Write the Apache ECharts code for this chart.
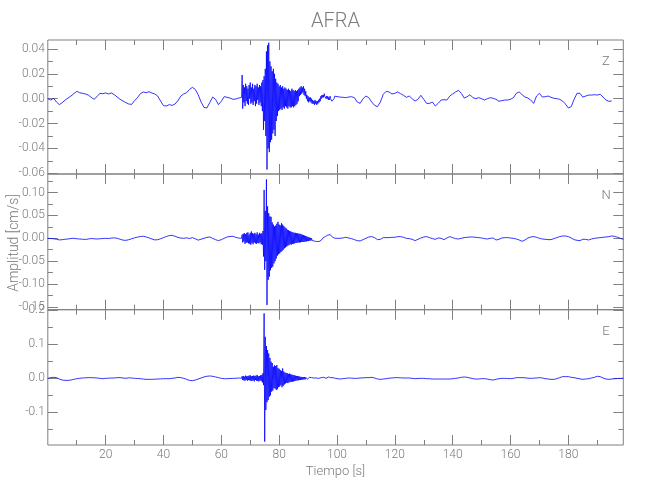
<!DOCTYPE html>
<html><head><meta charset="utf-8">
<script src="https://cdn.jsdelivr.net/npm/echarts@6/dist/echarts.min.js"></script>
<style>html,body{margin:0;padding:0;background:#fff}#c{width:650px;height:500px}</style>
</head><body><div id="c"></div>
<script>
// Amplitudes in units of 1e-3 cm/s.
// Quiet parts sampled every 1 s, the burst (67 s - 99.8 s) every 0.2 s.
const T_PRE = 0, T_BURST = 67, T_POST = 100;
const STEP_QUIET = 1, STEP_BURST = 0.2;

const zPre = [
 0,-1.1,0.3,-2.7,-4.8,-3.2,-1.1,0.5,2.1,4,
 5.9,4.8,4.3,3.8,2.9,1.1,-0.5,1.6,4.3,4,
 4.6,3.8,4.6,3.2,1.3,-0.5,-1.9,-3.2,-4.3,-4.6,
 -1.6,0.8,4,5.4,4.8,5.6,4.6,3.8,2.1,-1.9,
 -5.6,-5.9,-4.8,-5.4,-4.3,-1.6,2.1,3.8,4.8,7.5,
 9.1,7.5,3.2,-2.7,-7,-7.5,-3.2,1.3,-0.5,-4.8,
 -2.1,1.6,1.1,0.5,-0.5,-0.3,0.5];
const zBurst = [
 1,19,-8,11,-3,  9,-6,12,-2,10,  -4,8,-5,11,0,  13,-4,9,-3,12,
 -5,8,-2,11,-6,  10,-4,12,-1,9,  -5,11,-3,10,-6,  13,-10,15,-25,18,
 -18,24,-30,38,-57,  43,-40,45,-43,30,  -35,26,-33,22,-28,  24,-25,20,-30,16,
 -18,13,-14,12,-10,  10,-9,11,-8,9,  -9,10,-7,8,-8,  9,-6,8,-7,7,
 -8,8,-6,7,-7,  6,-7,8,-6,7,  -7,6,-6,7,-5,  6,-4,7,-2,8,
 2,9,3,10,4,  9,5,10,3,8,  2,6,0,3,-2,  2,-3,1,-2,1,
 -3,0,-4,-1,-4,  -2,-5,-1,-4,-2,  -5,-2,-4,-1,-3,  0,-2,2,0,3,
 1,3,1,4,2,  3,0,2,0,2,  -1,1,-1,2,0,  1,-2,-3,-1,-3,
 0,2,1,2,1];
const zPost = [
 0.8,1.3,1.1,0.8,1.3,1.6,0.8,-2.7,-3.8,0,
 2.1,0.8,-2.7,-5.4,-6.4,-2.7,3.5,5.9,5.4,3.8,
 4.3,5.4,4,2.7,1.1,2.1,0,-1.9,-0.5,2.7,
 -0.5,-3.8,-3.8,-2.7,-5.9,-3.8,-1.1,-0.8,-1.1,2.1,
 3.8,5.4,6.7,4.3,0.5,1.6,3.2,0.8,0,0.8,
 0,-1.1,0,0.8,0.3,-0.5,-2.1,-1.6,-1.1,-1.1,
 -0.5,0.8,4.3,5.4,3.2,1.3,0.5,-1.1,-3.8,2.1,
 4.3,1.3,1.6,2.1,1.1,0.3,0,-0.5,-1.9,-4.3,
 -7.5,-6.4,-0.5,4.3,4.3,1.3,2.1,2.9,2.9,3.2,
 2.9,3.5,1.3,-1.1,-2.1,-1.9];

const nPre = [
 0,-0.5,-1,-2,-3.5,-3,-2,-1.5,-0.5,0,
 -1,-1.5,-2,-2.5,-1.5,-0.5,-1,-1.5,-1,-0.5,
 0,-0.5,0.5,1,0,-2,-4,-4.5,-3,-1,
 1,2.5,4,4.5,3,1,-1.5,-3.5,-3,-1,
 1.5,4,6,6.5,4.5,2,0.5,0,1,-0.5,
 1.5,-1,-4,-2,0,2,3,0,-3,-5,
 -3,0,3,4,4.5,2,0.5];
const nBurst = [
 0,8,-9,10,-7,  11,-12,9,-10,12,  -9,13,-11,8,-12,  12,-14,15,-10,11,
 -13,10,-9,12,-11,  9,-12,13,-10,8,  -11,12,-9,10,-13,  11,-14,16,-40,106,
 -69,60,-50,129,-146,  70,-91,55,-84,48,  -70,47,-65,35,-62,  30,-55,26,-50,28,
 -44,32,-38,36,-35,  30,-33,28,-30,33,  -28,30,-25,27,-22,  24,-20,22,-18,19,
 -16,18,-15,16,-13,  15,-14,14,-12,13,  -12,12,-11,12,-10,  11,-10,11,-9,10,
 -9,10,-9,9,-8,  8,-8,7,-8,6,  -7,5,-7,4,-6,  3,-6,2,-5,1,
 -5,0,-5,-1,-6,  -2,-6,-3,-7,-4,  -7,-5,-8,-5,-7,  -4,-6,-3,-4,-1,
 -2,1,0,2,2,  4,3,5,4,7,  6,8,6,8,5,  6,4,4,2,3,
 1,2,0,1,0];
const nPost = [
 1.5,0,0.7,2.2,0.7,-0.7,-2.9,-5.1,-5.8,-2.9,
 0,2.9,3.7,1.5,-2.9,-2.2,1.5,1.5,1.5,2.2,
 2.2,3.7,3.7,2.2,0,-0.7,-2.2,-5.1,-2.2,0.7,
 2.9,3.7,1.5,-0.7,-2.2,0.7,0,-2.9,0.7,3.7,
 1.5,-0.7,-1.5,0,1.5,2.2,2.9,2.9,2.2,1.5,
 0.7,-0.7,-1.5,0,0.7,-3.7,-2.2,0.7,1.5,1.5,
 0.7,0,-1.5,-3.7,-6.6,-3.7,0.7,2.9,3.7,2.2,
 0,-1.5,-2.2,-2.9,-2.9,-0.7,1.5,3.7,5.1,5.1,
 3.7,0.7,-2.9,-4.4,-5.1,-2.2,-2.2,-3.7,-1.5,0,
 0.7,1.5,2.2,2.9,3.7,5.1,4.4,2.2,0,-2.2];

const ePre = [
 0,2,3,2,-2,-5,-6,-6,-5,-3,
 -1,0,1,1.5,2,2,1.5,1,0,-1,
 0,0.5,1,1,2,2,1,0,1.5,1,
 0,-0.5,-1,-2,-3,-3,-3,-2.5,-2,-1.5,
 -1,-1,-1,0,1,3,2,0,-3,-6,
 -7,-5,-2,1,4,6,7,6,4,2,
 0,-1,-1,-0.5,0,0,1];
const eBurst = [
 0,6,-5,7,-6,  5,-7,8,-4,6,  -7,7,-5,8,-6,  9,-7,6,-8,7,
 -6,8,-9,7,-5,  8,-7,10,-8,6,  -9,7,-6,9,-8,  10,-12,15,-20,191,
 -186,122,-93,95,-70,  83,-64,73,-54,60,  -50,49,-39,45,-36,  34,-29,38,-30,36,
 -34,39,-32,30,-26,  28,-24,24,-20,22,  -26,29,-22,20,-18,  17,-15,16,-13,15,
 -14,13,-12,14,-11,  12,-10,11,-10,10,  -9,9,-8,8,-7,  7,-6,7,-6,6,
 -5,5,-5,4,-4,  4,-4,3,-3,4,  -3,3,-2,3,-3,  2,-2,3,-2,2,
 -2,2,-1,2,-2,  1,-2,2,-1,1,  -1,1,-2,0,1,  -1,1,0,2,1,
 2,1,3,2,1,  2,0,1,2,3,  4,5,4,3,2,  1,0,1,2,1,
 0,-1,0,1,0];
const ePost = [
 -3,-2,-1,0,1,0.5,0,0,1,1.5,
 2,2,3,1,-2,-3,-2,-1,0.5,1,
 2,2,1.5,1,1,1,0,-1,-0.5,0,
 0,-1,-1,-2,-2,-2,-2,-2,-2,-2,
 -1,0,1,3,4,3,1,-1,-2,-2,
 -1,-1,-2,-4,-5,-3,-1,0,0,-0.5,
 -1,0,2,2,2,1.5,0.5,0,0.5,1,
 2,1,-1,-2,-3,-3,-1,2,5,5,
 5,3,2,0,-1.5,-3,-2,-1,1,3,
 6,5,1,-2,-3,-2,-1,-0.5,0,0];

// Axis ticks and labels
const xMajor = [20,40,60,80,100,120,140,160,180];
const xMinor = [10,30,50,70,90,110,130,150,170,190];
const xLabels = ['20','40','60','80','100','120','140','160','180'];
const zMajor = [-0.06,-0.04,-0.02,0,0.02,0.04];
const zLabels = ['-0.06','-0.04','-0.02','0.00','0.02','0.04'];
const zMinor = [-0.05,-0.03,-0.01,0.01,0.03];
const nMajor = [-0.15,-0.10,-0.05,0,0.05,0.10];
const nLabels = ['-0.15','-0.10','-0.05','0.00','0.05','0.10'];
const nMinor = [-0.125,-0.075,-0.025,0.025,0.075,0.125];
const eMajor = [-0.1,0,0.1,0.2];
const eLabels = ['-0.1','0.0','0.1','0.2'];
const eMinor = [-0.15,-0.05,0.05,0.15];

function build(pre, burst, post) {
  const pts = [];
  pre.forEach((v, i) => pts.push([T_PRE + i * STEP_QUIET, v / 1000]));
  burst.forEach((v, i) => pts.push([+(T_BURST + i * STEP_BURST).toFixed(2), v / 1000]));
  post.forEach((v, i) => pts.push([T_POST + i * STEP_QUIET, v / 1000]));
  return pts;
}

const FONT = "Roboto,'Liberation Sans',sans-serif";
const GRAY = '#808080';
const TXT = '#7a7a7a';
const LEFT = 47.8, WIDTH = 575.5;

const panels = [
  {name:'Z', data:build(zPre,zBurst,zPost), min:-0.0606, max:0.0472, major:zMajor, labels:zLabels, minor:zMinor, top:40, height:134},
  {name:'N', data:build(nPre,nBurst,nPost), min:-0.1564, max:0.1409, major:nMajor, labels:nLabels, minor:nMinor, top:174, height:135.7},
  {name:'E', data:build(ePre,eBurst,ePost), min:-0.196, max:0.2018, major:eMajor, labels:eLabels, minor:eMinor, top:309.7, height:135.3}
];

function fmt(vals, labels) {
  return v => { const k = vals.findIndex(x => Math.abs(x - v) < 1e-9); return k >= 0 ? labels[k] : ''; };
}

const grid = [], xAxis = [], yAxis = [], series = [], graphic = [];
panels.forEach((p, gi) => {
  grid.push({left:LEFT, width:WIDTH, top:p.top, height:p.height, show:true, borderColor:GRAY, borderWidth:1, backgroundColor:'transparent'});
  const isLast = gi === panels.length - 1;
  [['bottom', xMajor, 10, isLast], ['bottom', xMinor, 5, false], ['top', xMajor, 10, false], ['top', xMinor, 5, false]].forEach(([pos, vals, len, lab]) => {
    xAxis.push({type:'value', gridIndex:gi, position:pos, min:0, max:199,
      axisLine:{show:false, onZero:false}, splitLine:{show:false},
      axisTick:{show:true, inside:true, length:len, customValues:vals, lineStyle:{color:GRAY, width:1}},
      axisLabel: lab ? {show:true, customValues:xMajor, formatter:fmt(xMajor, xLabels), color:TXT, fontFamily:FONT, fontWeight:300, fontSize:12, margin:4}
                     : {show:false}});
  });
  [['left', p.major, 10, true], ['left', p.minor, 5, false], ['right', p.major, 10, false], ['right', p.minor, 5, false]].forEach(([pos, vals, len, lab]) => {
    yAxis.push({type:'value', gridIndex:gi, position:pos, min:p.min, max:p.max,
      axisLine:{show:false, onZero:false}, splitLine:{show:false},
      axisTick:{show:true, inside:true, length:len, customValues:vals, lineStyle:{color:GRAY, width:1}},
      axisLabel: lab ? {show:true, customValues:p.major, formatter:fmt(p.major, p.labels), color:TXT, fontFamily:FONT, fontWeight:300, fontSize:12, margin:3}
                     : {show:false}});
  });
  series.push({type:'line', xAxisIndex:gi*4, yAxisIndex:gi*4, data:p.data, showSymbol:false, symbol:'none',
    lineStyle:{color:'#0000ff', width:0.8}, silent:true, animation:false, clip:true});
  graphic.push({type:'text', x:606, y:p.top + 22, silent:true,
    style:{text:p.name, fill:TXT, font:'300 13px ' + FONT, align:'center', verticalAlign:'middle', textAlign:'center', textVerticalAlign:'middle'}});
});

graphic.push({type:'text', x:335.5, y:21.5, silent:true,
  style:{text:'AFRA', fill:TXT, font:'300 20px ' + FONT, align:'center', verticalAlign:'middle', textAlign:'center', textVerticalAlign:'middle'}});
graphic.push({type:'text', x:335.5, y:471.5, silent:true,
  style:{text:'Tiempo [s]', fill:TXT, font:'300 13px ' + FONT, align:'center', verticalAlign:'middle', textAlign:'center', textVerticalAlign:'middle'}});
graphic.push({type:'text', x:14.5, y:243, rotation:Math.PI/2, silent:true,
  style:{text:'Amplitud [cm/s]', fill:TXT, font:'300 14px ' + FONT, align:'center', verticalAlign:'middle', textAlign:'center', textVerticalAlign:'middle'}});

const chart = echarts.init(document.getElementById('c'), null, {renderer:'canvas'});
chart.setOption({animation:false, backgroundColor:'#fff', grid, xAxis, yAxis, series, graphic});
</script>
</body></html>
